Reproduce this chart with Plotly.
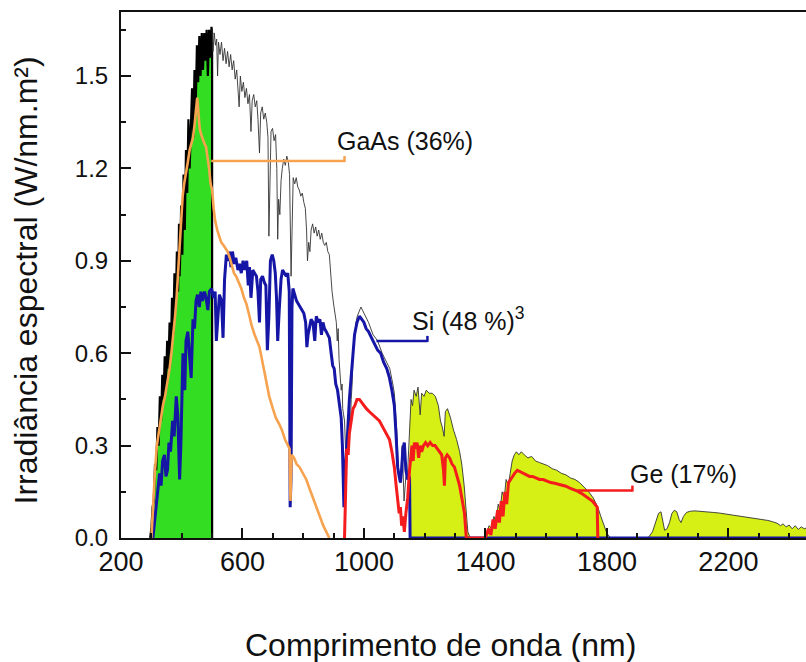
import plotly.graph_objects as go

# Solar spectral irradiance (W/nm.m2) - short-wavelength part, up to the 500 nm edge
sun_uv_nm = [296, 300, 304, 308, 312, 316, 320, 324, 328, 332, 336, 340, 344, 348, 352, 356,
             360, 364, 368, 372, 376, 380, 384, 388, 391, 393, 396, 398, 402, 406, 410, 414,
             418, 422, 426, 430, 434, 438, 442, 446, 450, 454, 458, 462, 466, 470, 474, 478,
             482, 486, 490, 494, 498, 500, 500]
sun_uv_irr = [0.00, 0.03, 0.10, 0.12, 0.24, 0.22, 0.36, 0.30, 0.46, 0.38, 0.53, 0.45, 0.59, 0.48,
              0.64, 0.55, 0.70, 0.60, 0.78, 0.66, 0.86, 0.74, 0.93, 0.80, 1.02, 0.85, 0.95, 1.08,
              0.92, 1.18, 1.00, 1.26, 1.12, 1.36, 1.20, 1.30, 1.46, 1.30, 1.52, 1.40, 1.60, 1.48,
              1.63, 1.50, 1.64, 1.52, 1.64, 1.55, 1.65, 1.50, 1.65, 1.56, 1.66, 1.64, 0.00]

# Solar spectral irradiance from 500 nm onwards (one row of ten readings per line)
sun_nm = [
    500, 503, 507, 511, 515, 518, 521, 526, 531, 536,
    541, 546, 551, 556, 561, 566, 571, 576, 581, 586,
    589, 593, 598, 603, 608, 613, 618, 623, 628, 632,
    637, 642, 647, 651, 656, 660, 665, 670, 675, 680,
    684, 687, 690, 694, 699, 704, 709, 713, 716, 719,
    723, 727, 731, 736, 741, 746, 751, 755, 760, 763,
    767, 772, 777, 782, 787, 792, 797, 802, 807, 811,
    814, 818, 822, 826, 831, 836, 841, 846, 851, 856,
    861, 866, 871, 876, 881, 886, 891, 895, 900, 905,
    909, 912, 915, 918, 922, 925, 928, 930, 933, 936,
    939, 942, 946, 949, 952, 955, 958, 961, 964, 967,
    970, 974, 978, 985, 990, 995, 1005, 1015, 1030, 1045,
    1060, 1075, 1085, 1095, 1100, 1108, 1114, 1120, 1126, 1132,
    1138, 1144, 1150, 1155, 1160, 1165, 1172, 1178, 1185, 1190,
    1198, 1205, 1215, 1225, 1235, 1245, 1252, 1258, 1264, 1268,
    1275, 1285, 1295, 1305, 1315, 1322, 1330, 1336, 1342, 1350,
    1380, 1400, 1405, 1412, 1420, 1428, 1435, 1442, 1448, 1455,
    1462, 1468, 1475, 1482, 1488, 1495, 1502, 1510, 1518, 1528,
    1540, 1552, 1565, 1578, 1590, 1605, 1620, 1635, 1650, 1665,
    1680, 1695, 1710, 1725, 1740, 1755, 1770, 1780, 1790, 1800,
    1812, 1900, 1935, 1950, 1960, 1970, 1978, 1984, 1990, 1998,
    2006, 2014, 2022, 2030, 2038, 2044, 2052, 2062, 2075, 2090,
    2110, 2130, 2150, 2170, 2190, 2210, 2230, 2250, 2270, 2290,
    2310, 2330, 2345, 2360, 2372, 2380, 2390, 2400, 2410, 2420,
    2430, 2440, 2450, 2460,
]
sun_irr = [
    1.65, 1.58, 1.64, 1.60, 1.62, 1.50, 1.61, 1.57, 1.61, 1.55,
    1.59, 1.54, 1.58, 1.53, 1.57, 1.52, 1.55, 1.49, 1.52, 1.46,
    1.40, 1.50, 1.45, 1.48, 1.43, 1.46, 1.41, 1.44, 1.32, 1.42,
    1.44, 1.40, 1.42, 1.36, 1.25, 1.38, 1.40, 1.36, 1.38, 1.35,
    1.30, 0.98, 1.18, 1.32, 1.33, 1.29, 1.31, 1.20, 0.97, 1.10,
    1.05, 1.16, 1.20, 1.23, 1.21, 1.24, 1.22, 1.18, 0.85, 1.05,
    1.17, 1.15, 1.17, 1.14, 1.13, 1.11, 1.12, 1.09, 1.07, 1.00,
    0.90, 0.96, 0.93, 1.00, 1.02, 0.99, 1.01, 0.98, 1.00, 0.97,
    0.99, 0.96, 0.95, 0.96, 0.93, 0.92, 0.85, 0.80, 0.76, 0.72,
    0.70, 0.64, 0.68, 0.58, 0.52, 0.48, 0.50, 0.42, 0.40, 0.38,
    0.30, 0.22, 0.32, 0.28, 0.40, 0.36, 0.45, 0.50, 0.60, 0.63,
    0.67, 0.70, 0.72, 0.74, 0.75, 0.74, 0.72, 0.70, 0.66, 0.64,
    0.60, 0.57, 0.55, 0.50, 0.47, 0.35, 0.20, 0.18, 0.30, 0.12,
    0.20, 0.22, 0.35, 0.45, 0.43, 0.48, 0.46, 0.49, 0.40, 0.47,
    0.46, 0.48, 0.47, 0.47, 0.46, 0.43, 0.38, 0.36, 0.33, 0.41,
    0.42, 0.39, 0.35, 0.32, 0.28, 0.24, 0.17, 0.08, 0.02, 0.00,
    0.00, 0.00, 0.02, 0.04, 0.03, 0.07, 0.05, 0.11, 0.09, 0.15,
    0.13, 0.19, 0.17, 0.22, 0.25, 0.27, 0.28, 0.27, 0.28, 0.27,
    0.26, 0.265, 0.25, 0.245, 0.24, 0.235, 0.225, 0.22, 0.21, 0.205,
    0.195, 0.19, 0.18, 0.165, 0.15, 0.13, 0.10, 0.07, 0.04, 0.015,
    0.00, 0.00, 0.00, 0.02, 0.05, 0.08, 0.085, 0.05, 0.025, 0.03,
    0.05, 0.08, 0.09, 0.085, 0.06, 0.05, 0.07, 0.083, 0.087, 0.088,
    0.087, 0.085, 0.083, 0.081, 0.078, 0.074, 0.071, 0.069, 0.066, 0.064,
    0.061, 0.057, 0.053, 0.048, 0.040, 0.046, 0.036, 0.042, 0.030, 0.040,
    0.028, 0.036, 0.030, 0.034,
]
assert len(sun_nm) == len(sun_irr)

# Spectral windows shaded under the solar curve for the Ge cell
ge_windows_nm = [(1150, 1350), (1400, 1812), (1935, 2460)]

# GaAs cell response
gaas_nm = [300, 306, 312, 318, 325, 332, 338, 345, 352, 360, 366, 372, 378, 383, 388, 393, 398,
           403, 408, 414, 420, 426, 432, 437, 442, 447, 451, 455, 459, 464, 470, 475, 480, 485,
           490, 495, 500, 505, 510, 517, 524, 530, 538, 545, 551, 558, 565, 572, 579, 587, 596,
           605, 613, 623, 630, 640, 656, 670, 688, 700, 710, 721, 730, 740, 750, 755, 758, 762,
           770, 778, 788, 798, 810, 821, 832, 843, 855, 866, 876, 886]
gaas_irr = [0.00, 0.12, 0.22, 0.30, 0.35, 0.40, 0.43, 0.46, 0.50, 0.55, 0.60, 0.65, 0.72, 0.78,
            0.86, 0.94, 1.05, 1.11, 1.15, 1.18, 1.22, 1.26, 1.28, 1.30, 1.34, 1.38, 1.43, 1.38,
            1.33, 1.31, 1.29, 1.28, 1.27, 1.24, 1.20, 1.15, 1.13, 1.07, 1.03, 1.00, 0.98, 0.96,
            0.95, 0.94, 0.93, 0.91, 0.88, 0.86, 0.85, 0.83, 0.81, 0.78, 0.76, 0.72, 0.69, 0.66,
            0.62, 0.55, 0.46, 0.42, 0.39, 0.37, 0.35, 0.32, 0.30, 0.29, 0.12, 0.27, 0.26, 0.24,
            0.23, 0.21, 0.19, 0.16, 0.13, 0.10, 0.07, 0.04, 0.02, 0.00]

# Si cell response
si_nm = [305, 315, 322, 327, 332, 337, 343, 348, 353, 358, 363, 370, 375, 382, 387, 393, 397,
         401, 404, 410, 414, 420, 426, 431, 437, 442, 447, 452, 458, 463, 468, 475, 480, 486,
         491, 498, 505, 510, 514, 518, 524, 531, 536, 541, 547, 552, 557, 562, 567, 573, 578,
         585, 590, 596, 602, 608, 614, 619, 623, 628, 634, 640, 646, 651, 656, 660, 666, 672,
         677, 682, 687, 692, 698, 703, 708, 712, 716, 721, 727, 732, 738, 744, 749, 754, 757,
         760, 763, 766, 772, 778, 784, 790, 796, 802, 808, 812, 816, 821, 826, 832, 838, 843,
         849, 855, 860, 865, 870, 876, 881, 886, 892, 897, 902, 907, 913, 918, 925, 929, 934,
         938, 943, 946, 952, 959, 964, 969, 977, 985, 993, 1000, 1007, 1015, 1025, 1035, 1045,
         1055, 1065, 1075, 1084, 1092, 1100, 1106, 1111, 1116, 1120, 1124, 1128, 1133, 1138,
         1144, 1150, 1152, 2460]
si_irr = [0.00, 0.10, 0.18, 0.21, 0.17, 0.25, 0.27, 0.20, 0.22, 0.31, 0.28, 0.38, 0.33, 0.46,
          0.40, 0.19, 0.30, 0.55, 0.60, 0.48, 0.64, 0.67, 0.60, 0.52, 0.71, 0.68, 0.77, 0.79,
          0.75, 0.80, 0.77, 0.80, 0.78, 0.74, 0.80, 0.81, 0.78, 0.80, 0.64, 0.70, 0.79, 0.77,
          0.65, 0.84, 0.92, 0.90, 0.93, 0.88, 0.93, 0.89, 0.91, 0.87, 0.89, 0.86, 0.90, 0.87,
          0.90, 0.82, 0.88, 0.78, 0.87, 0.86, 0.85, 0.80, 0.70, 0.84, 0.85, 0.83, 0.82, 0.61,
          0.72, 0.90, 0.92, 0.90, 0.86, 0.78, 0.64, 0.74, 0.84, 0.87, 0.86, 0.85, 0.86, 0.80,
          0.10, 0.20, 0.75, 0.81, 0.79, 0.77, 0.76, 0.75, 0.74, 0.73, 0.70, 0.62, 0.66, 0.68,
          0.71, 0.70, 0.64, 0.72, 0.70, 0.71, 0.66, 0.70, 0.68, 0.67, 0.66, 0.65, 0.60, 0.56,
          0.55, 0.50, 0.48, 0.44, 0.39, 0.30, 0.10, 0.22, 0.28, 0.34, 0.45, 0.55, 0.62, 0.66,
          0.70, 0.72, 0.71, 0.70, 0.68, 0.67, 0.65, 0.63, 0.61, 0.60, 0.57, 0.55, 0.52, 0.48,
          0.43, 0.33, 0.23, 0.20, 0.18, 0.22, 0.29, 0.31, 0.22, 0.19, 0.20, 0.00, 0.00]

# Ge cell response
ge_nm = [936, 940, 943, 948, 952, 958, 964, 970, 977, 985, 992, 1000, 1008, 1018, 1030, 1040,
         1051, 1062, 1072, 1084, 1092, 1100, 1106, 1111, 1116, 1120, 1124, 1128, 1133, 1138,
         1144, 1150, 1154, 1158, 1162, 1166, 1170, 1175, 1180, 1185, 1190, 1196, 1203, 1210,
         1218, 1226, 1234, 1242, 1250, 1256, 1262, 1265, 1268, 1274, 1282, 1290, 1298, 1306,
         1315, 1324, 1331, 1337, 1400, 1410, 1418, 1425, 1432, 1440, 1446, 1452, 1458, 1464,
         1470, 1476, 1482, 1489, 1496, 1505, 1515, 1525, 1535, 1545, 1555, 1565, 1578, 1590,
         1603, 1615, 1628, 1640, 1652, 1665, 1678, 1690, 1703, 1716, 1728, 1740, 1752, 1762,
         1768, 1770]
ge_irr = [0.00, 0.20, 0.29, 0.27, 0.34, 0.38, 0.42, 0.43, 0.45, 0.45, 0.44, 0.43, 0.42, 0.41,
          0.40, 0.39, 0.38, 0.36, 0.34, 0.32, 0.28, 0.23, 0.17, 0.13, 0.08, 0.10, 0.04, 0.07,
          0.02, 0.08, 0.13, 0.22, 0.27, 0.30, 0.25, 0.31, 0.29, 0.31, 0.26, 0.30, 0.28, 0.30,
          0.31, 0.30, 0.31, 0.30, 0.30, 0.29, 0.28, 0.27, 0.22, 0.17, 0.26, 0.27, 0.26, 0.24,
          0.23, 0.20, 0.17, 0.12, 0.08, 0.00, 0.00, 0.03, 0.01, 0.06, 0.03, 0.09, 0.05, 0.12,
          0.07, 0.15, 0.11, 0.18, 0.19, 0.20, 0.21, 0.22, 0.215, 0.21, 0.205, 0.20, 0.20,
          0.195, 0.19, 0.19, 0.185, 0.18, 0.178, 0.175, 0.17, 0.168, 0.162, 0.158, 0.152,
          0.145, 0.137, 0.128, 0.12, 0.108, 0.10, 0.00]

x_ticks = [200, 600, 1000, 1400, 1800, 2200]
y_ticks = [0.0, 0.3, 0.6, 0.9, 1.2, 1.5]

FONT = "Liberation Sans, Arial, sans-serif"
GREEN = "#33dd22"
YELLOW = "#d6ef14"
ORANGE = "#f7a24e"
BLUE = "#1616a6"
RED = "#f41c1c"

fig = go.Figure()

# short-wavelength block (green) with its thick black spectrum edge
fig.add_trace(go.Scatter(x=sun_uv_nm, y=sun_uv_irr, mode="lines", fill="tozeroy",
                         fillcolor=GREEN, line=dict(color="black", width=2.2)))

# Ge windows shaded under the solar curve
for lo, hi in ge_windows_nm:
    xs = [x for x in sun_nm if lo <= x <= hi]
    ys = [y for x, y in zip(sun_nm, sun_irr) if lo <= x <= hi]
    fig.add_trace(go.Scatter(x=xs, y=ys, mode="lines", fill="tozeroy",
                             fillcolor=YELLOW, line=dict(width=0)))

# solar spectrum, thin line
fig.add_trace(go.Scatter(x=sun_nm, y=sun_irr, mode="lines",
                         line=dict(color="#333333", width=0.9)))

fig.add_trace(go.Scatter(x=si_nm, y=si_irr, mode="lines", line=dict(color=BLUE, width=3)))
fig.add_trace(go.Scatter(x=gaas_nm, y=gaas_irr, mode="lines", line=dict(color=ORANGE, width=2.6)))
fig.add_trace(go.Scatter(x=ge_nm, y=ge_irr, mode="lines", line=dict(color=RED, width=3)))

# labels with leader lines
labels = [
    dict(text="GaAs (36%)", color=ORANGE, x0=497, x1=936, y=1.224, tx=903, ty=1.29),
    dict(text="Si (48 %)<sup>3</sup>", color=BLUE, x0=1041, x1=1209, y=0.64, tx=1150, ty=0.71),
    dict(text="Ge (17%)", color=RED, x0=1703, x1=1884, y=0.154, tx=1868, ty=0.207),
]
for lb in labels:
    fig.add_shape(type="line", xref="x", yref="y", x0=lb["x0"], x1=lb["x1"],
                  y0=lb["y"], y1=lb["y"], line=dict(color=lb["color"], width=2.5))
    fig.add_shape(type="line", xref="x", yref="y", ysizemode="pixel", yanchor=lb["y"],
                  x0=lb["x1"], x1=lb["x1"], y0=-1, y1=5,
                  line=dict(color=lb["color"], width=2.5))
    fig.add_annotation(x=lb["tx"], y=lb["ty"], xref="x", yref="y", text=lb["text"],
                       showarrow=False, xanchor="left", yanchor="middle",
                       font=dict(family=FONT, size=25, color="#111"))

# axis titles
fig.add_annotation(text="Comprimento de onda (nm)", xref="paper", yref="paper",
                   x=0.4657, y=-0.203, showarrow=False, xanchor="center", yanchor="middle",
                   font=dict(family=FONT, size=32, color="#111"))
fig.add_annotation(text="Irradiância espectral (W/nm.m²)", xref="paper", yref="paper",
                   x=-0.138, y=0.4905, textangle=-90, showarrow=False,
                   xanchor="center", yanchor="middle",
                   font=dict(family=FONT, size=32, color="#111"))

fig.update_layout(
    width=806, height=662,
    margin=dict(l=121, r=0, t=12, b=124),
    paper_bgcolor="white", plot_bgcolor="white",
    showlegend=False,
    xaxis=dict(range=[200, 2455.5], tickvals=x_ticks, ticks="inside", ticklen=10,
               tickwidth=2, tickcolor="#111", showline=True, linecolor="#111", linewidth=2,
               mirror=True, showgrid=False, zeroline=False,
               tickfont=dict(family=FONT, size=27, color="#111"), ticklabelstandoff=-1,
               minor=dict(dtick=100, tick0=200, ticks="inside", ticklen=5, tickwidth=2,
                          tickcolor="#111", showgrid=False)),
    yaxis=dict(range=[0, 1.708], tickvals=y_ticks, tickformat=".1f", ticks="inside",
               ticklen=10, tickwidth=2, tickcolor="#111", showline=True, linecolor="#111",
               linewidth=2, showgrid=False, zeroline=False,
               tickfont=dict(family=FONT, size=24, color="#111"), ticklabelstandoff=6,
               minor=dict(dtick=0.15, tick0=0, ticks="inside", ticklen=5, tickwidth=2,
                          tickcolor="#111", showgrid=False)),
)

fig.write_html("out.html")
